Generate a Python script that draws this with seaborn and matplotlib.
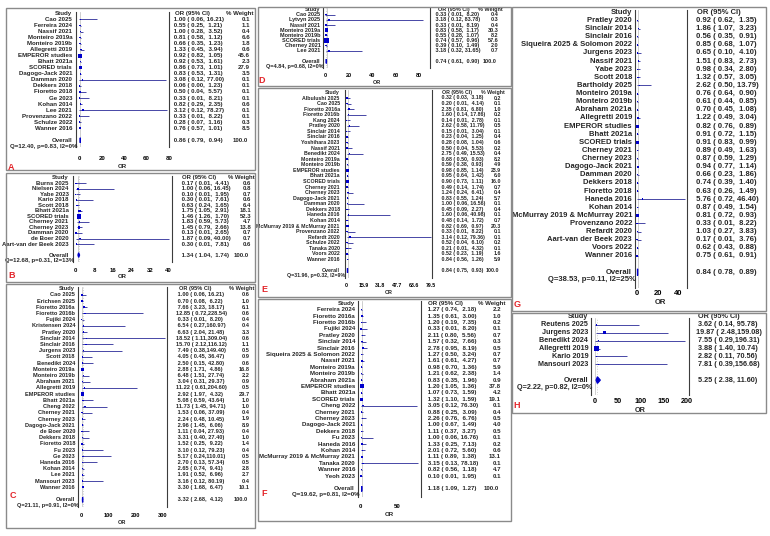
import numpy as np
import pandas as pd
import matplotlib
matplotlib.use("Agg")
import matplotlib.pyplot as plt
import seaborn as sns
from matplotlib.transforms import blended_transform_factory as btf
from matplotlib.patches import Rectangle

# ---------------- data ----------------
a_names = ["Cao 2025", "Ferreira 2024", "Nassif 2021", "Monteiro 2019a", "Monteiro 2019b", "Allegretti 2019",
           "EMPEROR studies", "Bhatt 2021a", "SCORED trials", "Dagogo-Jack 2021", "Damman 2020", "Dekkers 2018",
           "Fioretto 2018", "Ge 2023", "Kohan 2014", "Lee 2021", "Provenzano 2022", "Schulze 2022", "Wanner 2016"]
a_or = [1.00, 0.55, 1.00, 0.81, 0.66, 1.33, 0.92, 0.92, 0.86, 0.83, 3.08, 0.06, 0.50, 0.33, 0.82, 3.12, 0.33, 0.28, 0.76]
a_lo = [0.06, 0.25, 0.28, 0.58, 0.35, 0.45, 0.82, 0.53, 0.73, 0.53, 0.12, 0.00, 0.04, 0.01, 0.29, 0.12, 0.01, 0.07, 0.57]
a_hi = [16.21, 1.21, 3.52, 1.12, 1.23, 3.94, 1.05, 1.61, 1.01, 1.31, 77.00, 1.23, 5.57, 8.21, 2.35, 78.27, 8.22, 1.16, 1.01]
a_wt = [0.1, 1.1, 0.4, 6.6, 1.8, 0.6, 45.6, 2.3, 27.9, 3.5, 0.1, 0.1, 0.1, 0.1, 0.6, 0.1, 0.1, 0.3, 8.5]
a_overall = [0.86, 0.79, 0.94]
a_stats = "Q=12.40, p=0.83, I2=0%"
a_ticks = [0, 20, 40, 60, 80]

b_names = ["Burns 2025", "Nielsen 2024", "Yabe 2023", "Kario 2018", "Scott 2018", "Bhatt 2021a", "SCORED trials",
           "Cherney 2021", "Cherney 2023", "Damman 2020", "de Boer 2020", "Aart-van der Beek 2023"]
b_or = [0.17, 1.00, 0.10, 0.30, 0.63, 1.75, 1.46, 1.83, 1.45, 0.13, 1.87, 0.30]
b_lo = [0.01, 0.06, 0.01, 0.01, 0.24, 1.05, 1.26, 0.59, 0.79, 0.01, 0.09, 0.01]
b_hi = [4.41, 16.45, 1.95, 7.61, 1.65, 2.91, 1.70, 5.73, 2.66, 2.65, 40.00, 7.81]
b_wt = [0.6, 0.8, 0.7, 0.6, 6.4, 18.1, 52.3, 4.7, 13.8, 0.7, 0.7, 0.6]
b_overall = [1.34, 1.04, 1.74]
b_stats = "Q=12.68, p=0.31, I2=13%"
b_ticks = [0, 8, 16, 24, 32, 40]

c_names = ["Cao 2025", "Erichsen 2025", "Fioretto 2016a", "Fioretto 2016b", "Fujiki 2024", "Kristensen 2024",
           "Pratley 2020", "Sinclair 2014", "Sinclair 2016", "Jurgens 2023", "Scott 2018", "Benedikt 2024",
           "Monteiro 2019a", "Monteiro 2019b", "Abraham 2021", "Allegretti 2019", "EMPEROR studies", "Bhatt 2021a",
           "Cheng 2022", "Cherney 2021", "Cherney 2023", "Dagogo-Jack 2021", "de Boer 2020", "Dekkers 2018",
           "Fioretto 2018", "Fu 2023", "Ge 2023", "Haneda 2016", "Kohan 2014", "Lee 2021", "Mansouri 2023",
           "Wanner 2016"]
c_or = [1.00, 0.70, 7.66, 12.85, 0.33, 6.54, 6.63, 18.52, 15.70, 7.49, 4.05, 2.50, 2.88, 6.48, 3.04, 11.22, 2.92,
        5.08, 11.73, 1.53, 2.24, 2.96, 1.11, 3.31, 1.52, 3.10, 5.17, 2.70, 2.65, 1.91, 3.16, 3.30]
c_lo = [0.06, 0.08, 3.23, 0.72, 0.01, 0.27, 2.04, 1.11, 2.12, 0.38, 0.45, 0.15, 1.71, 1.51, 0.31, 0.61, 1.97,
        0.59, 1.45, 0.06, 0.48, 1.45, 0.04, 0.40, 0.25, 0.12, 0.24, 0.13, 0.74, 0.52, 0.12, 1.68]
c_hi = [16.21, 6.22, 18.17, 228.54, 8.20, 160.97, 21.48, 309.04, 116.12, 149.40, 36.47, 42.80, 4.86, 27.74, 29.37,
        204.60, 4.32, 43.64, 94.71, 37.09, 10.45, 6.06, 27.93, 27.40, 9.22, 79.23, 110.01, 57.34, 9.41, 6.96,
        80.19, 6.47]
c_wt = [0.6, 1.0, 6.1, 0.6, 0.4, 0.4, 3.3, 0.6, 1.1, 0.5, 0.9, 0.6, 16.8, 2.2, 0.9, 0.5, 29.7, 1.0, 1.0, 0.4,
        1.9, 8.9, 0.4, 1.0, 1.4, 0.4, 0.5, 0.5, 2.8, 2.7, 0.4, 10.1]
c_overall = [3.32, 2.68, 4.12]
c_stats = "Q=21.11, p=0.91, I2=0%"
c_ticks = [0, 100, 200, 300]

d_names = ["Cao 2025", "Lytvyn 2025", "Nassif 2021", "Monteiro 2019a", "Monteiro 2019b", "SCORED trials",
           "Cherney 2021", "Lee 2021"]
d_or = [0.33, 3.18, 0.33, 0.83, 0.55, 0.74, 0.39, 3.18]
d_lo = [0.01, 0.12, 0.01, 0.58, 0.28, 0.57, 0.10, 0.32]
d_hi = [8.20, 83.78, 8.19, 1.17, 1.07, 0.96, 1.49, 31.65]
d_wt = [0.4, 0.3, 0.4, 30.3, 8.2, 57.6, 2.0, 0.7]
d_overall = [0.74, 0.61, 0.90]
d_stats = "Q=4.84, p=0.68, I2=0%"
d_ticks = [0, 20, 40, 60, 80]

e_names = ["Albulushi 2025", "Cao 2025", "Fioretto 2016a", "Fioretto 2016b", "Kang 2024", "Pratley 2020",
           "Sinclair 2014", "Sinclair 2016", "Yoshihara 2023", "Nassif 2021", "Benedikt 2024", "Monteiro 2019a",
           "Monteiro 2019b", "EMPEROR studies", "Bhatt 2021a", "SCORED trials", "Cherney 2021", "Cherney 2023",
           "Dagogo-Jack 2021", "Damman 2020", "Dekkers 2018", "Haneda 2016", "Kohan 2014",
           "McMurray 2019 & McMurray 2021", "Provenzano 2022", "Refardt 2020", "Schulze 2022", "Tanaka 2020",
           "Voors 2022", "Wanner 2016"]
e_or = [0.32, 0.20, 2.35, 1.60, 0.14, 2.62, 0.15, 0.23, 0.28, 0.50, 2.75, 0.68, 0.59, 0.98, 0.95, 0.90, 0.49,
        1.24, 0.83, 1.00, 0.45, 1.60, 0.48, 0.82, 0.33, 3.14, 0.52, 0.21, 0.52, 0.84]
e_lo = [0.03, 0.01, 0.81, 0.14, 0.01, 0.58, 0.01, 0.04, 0.08, 0.04, 0.49, 0.50, 0.38, 0.85, 0.64, 0.73, 0.14,
        0.24, 0.55, 0.06, 0.09, 0.06, 0.14, 0.69, 0.01, 0.12, 0.04, 0.01, 0.23, 0.56]
e_hi = [3.18, 4.14, 6.80, 17.86, 2.78, 11.79, 3.04, 1.25, 1.04, 5.53, 15.53, 0.93, 0.93, 1.14, 1.42, 1.11, 1.74,
        6.41, 1.24, 16.56, 2.27, 40.98, 1.72, 0.97, 8.22, 79.36, 6.10, 4.32, 1.19, 1.26]
e_wt = [0.2, 0.1, 1.0, 0.2, 0.1, 0.5, 0.1, 0.4, 0.6, 0.2, 0.4, 8.2, 4.9, 23.9, 6.0, 16.0, 0.7, 0.4, 5.7, 0.1,
        0.4, 0.1, 0.7, 20.3, 0.1, 0.1, 0.2, 0.1, 1.6, 5.9]
e_overall = [0.84, 0.75, 0.93]
e_stats = "Q=31.96, p=0.32, I2=9%"
e_ticks = [0, 15.9, 31.8, 47.7, 63.6, 79.5]

f_names = ["Ferreira 2024", "Fioretto 2016a", "Fioretto 2016b", "Fujiki 2024", "Pratley 2020", "Sinclair 2014",
           "Sinclair 2016", "Siqueira 2025 & Solomon 2022", "Nassif 2021", "Monteiro 2019a", "Monteiro 2019b",
           "Abraham 2021a", "EMPEROR studies", "Bhatt 2021a", "SCORED trials", "Cheng 2022", "Cherney 2021",
           "Cherney 2023", "Dagogo-Jack 2021", "Dekkers 2018", "Fu 2023", "Haneda 2016", "Kohan 2014",
           "McMurray 2019 & McMurray 2021", "Tanaka 2020", "Wanner 2016", "Yeoh 2023"]
f_or = [1.27, 1.35, 1.20, 0.33, 2.11, 1.57, 2.78, 1.27, 1.61, 0.98, 1.21, 0.83, 1.20, 1.07, 1.32, 3.05, 0.88,
        2.26, 1.00, 1.11, 1.00, 1.33, 2.01, 1.11, 3.15, 0.82, 0.10]
f_lo = [0.74, 0.61, 0.19, 0.01, 0.80, 0.32, 0.95, 0.50, 0.61, 0.70, 0.62, 0.35, 1.05, 0.73, 1.10, 0.12, 0.25,
        0.76, 0.67, 0.37, 0.06, 0.25, 0.72, 0.89, 0.13, 0.56, 0.01]
f_hi = [2.18, 3.00, 7.35, 8.20, 5.56, 7.66, 8.19, 3.24, 4.27, 1.36, 2.38, 1.96, 1.36, 1.59, 1.59, 76.30, 3.09,
        6.76, 1.49, 3.27, 16.76, 7.13, 5.60, 1.38, 78.18, 1.18, 1.95]
f_wt = [2.2, 1.0, 0.2, 0.1, 0.7, 0.3, 0.5, 0.7, 0.7, 5.9, 1.4, 0.9, 37.8, 4.2, 19.1, 0.1, 0.4, 0.5, 4.0, 0.5,
        0.1, 0.2, 0.6, 13.1, 0.1, 4.7, 0.1]
f_overall = [1.18, 1.09, 1.27]
f_stats = "Q=19.62, p=0.81, I2=0%"
f_ticks = [0, 50]

g_names = ["Pratley 2020", "Sinclair 2014", "Sinclair 2016", "Siqueira 2025 & Solomon 2022", "Jurgens 2023",
           "Nassif 2021", "Yabe 2023", "Scott 2018", "Bartholdy 2025", "Monteiro 2019a", "Monteiro 2019b",
           "Abraham 2021a", "Allegretti 2019", "EMPEROR studies", "Bhatt 2021a", "SCORED trials", "Cherney 2021",
           "Cherney 2023", "Dagogo-Jack 2021", "Damman 2020", "Dekkers 2018", "Fioretto 2018", "Haneda 2016",
           "Kohan 2014", "McMurray 2019 & McMurray 2021", "Provenzano 2022", "Refardt 2020",
           "Aart-van der Beek 2023", "Voors 2022", "Wanner 2016"]
g_or = [0.92, 1.86, 0.56, 0.85, 0.65, 1.51, 0.98, 1.32, 2.62, 0.76, 0.61, 0.70, 1.22, 0.82, 0.91, 0.91, 0.89,
        0.87, 0.94, 0.66, 0.74, 0.63, 5.76, 0.87, 0.81, 0.33, 1.03, 0.17, 0.62, 0.75]
g_lo = [0.62, 1.07, 0.35, 0.68, 0.10, 0.83, 0.34, 0.57, 0.50, 0.64, 0.44, 0.45, 0.49, 0.76, 0.72, 0.83, 0.49,
        0.59, 0.77, 0.23, 0.39, 0.26, 0.72, 0.49, 0.72, 0.01, 0.27, 0.01, 0.43, 0.61]
g_hi = [1.35, 3.23, 0.91, 1.07, 4.10, 2.73, 2.80, 3.05, 13.79, 0.90, 0.85, 1.08, 3.04, 0.89, 1.15, 0.99, 1.63,
        1.29, 1.14, 1.86, 1.40, 1.49, 46.40, 1.54, 0.93, 8.22, 3.83, 3.76, 0.88, 0.91]
# square sizes (no weight column shown)
g_wt = [3, 3, 3, 7, 0.5, 2, 1, 1.5, 0.5, 9, 4, 3, 1, 22, 6, 16, 2, 2.5, 8, 0.8, 1.5, 1, 0.3, 2, 14, 0.1,
        0.6, 0.1, 4, 10]
g_overall = [0.84, 0.78, 0.89]
g_stats = "Q=38.53, p=0.11, I2=25%"
g_ticks = [0, 20, 40]

h_names = ["Reutens 2025", "Jurgens 2023", "Benedikt 2024", "Allegretti 2019", "Kario 2019", "Mansouri 2023"]
h_or = [3.62, 19.87, 7.55, 3.88, 2.82, 7.81]
h_lo = [0.14, 2.48, 0.29, 1.40, 0.11, 0.39]
h_hi = [95.78, 159.08, 196.31, 10.74, 70.56, 156.68]
h_wt = [3, 20, 3, 70, 3, 4]  # estimated from square sizes
h_overall = [5.25, 2.38, 11.60]
h_stats = "Q=2.22, p=0.82, I2=0%"
h_ticks = [0, 50, 100, 150, 200]

# ---------------- style ----------------
sns.set_theme(style="white")
plt.rcParams["font.family"] = ["Liberation Sans", "DejaVu Sans"]
plt.rcParams["font.weight"] = "bold"

W, H = 770, 536
SQ = "#0000cc"
LINE = "#4747a6"
BOX = "#8a8a8a"
fig = plt.figure(figsize=(W / 100, H / 100), dpi=100)


def panel(box, names, ors, los, his, wts, ov, stats, ticks, xlim, ax_x, ax_y, row0, dy, fs,
          lab_x, or_x, wt_x, tick_y, orlab_y, letter, letter_xy, hdr_dx=3, show_wt=True):
    x0, y0, x1, y1 = box
    fig.add_artist(Rectangle((x0 / W, 1 - y1 / H), (x1 - x0) / W, (y1 - y0) / H,
                             transform=fig.transFigure, fill=False, ec=BOX, lw=1.0))
    l, r = ax_x
    t, b = ax_y
    ax = fig.add_axes([l / W, 1 - b / H, (r - l) / W, (b - t) / H])
    ax.patch.set_alpha(0)
    n = len(names)
    rows = np.arange(n)
    ov_row = n + 1
    ax.axvline(1, color="#cfcfcf", lw=0.7, zorder=0)
    ax.axvline(ov[0], color="#cfcfcf", lw=0.7, ls=":", zorder=0)
    ax.hlines(rows, los, his, color=LINE, lw=0.7, zorder=2)
    side = np.maximum(1.4, 0.63 * np.sqrt(np.asarray(wts, dtype=float))) * 0.72
    df = pd.DataFrame({"x": ors, "y": rows})
    sns.scatterplot(data=df, x="x", y="y", marker="s", s=side ** 2, color=SQ, linewidth=0,
                    ax=ax, zorder=3, legend=False)
    ax.fill([ov[1], ov[0], ov[2], ov[0]], [ov_row, ov_row - 0.42, ov_row, ov_row + 0.42],
            color=SQ, lw=0.9, ec=SQ, zorder=3)
    ax.set_xlim(*xlim)
    ax.set_ylim((b - row0) / dy, (t - row0) / dy)
    ax.set_xlabel("")
    ax.set_ylabel("")
    ax.set_yticks([])
    for s in ["top", "bottom"]:
        ax.spines[s].set_visible(False)
    for s in ["left", "right"]:
        ax.spines[s].set_color("#3c3c3c")
        ax.spines[s].set_linewidth(0.8)
    fs_px = fs * 100 / 72
    pad = max(0.0, (tick_y - b) - 0.5 * fs_px) * 0.72
    ax.set_xticks(ticks)
    ax.set_xticklabels([f"{v:g}" for v in ticks], fontsize=fs, fontweight="bold")
    ax.tick_params(axis="x", length=0, pad=pad, colors="black")
    ax.text(0.5, -(orlab_y - b) / (b - t), "OR", transform=ax.transAxes, ha="center",
            va="center", fontsize=fs, fontweight="bold")
    tr = btf(fig.transFigure, ax.transData)
    kw = dict(transform=tr, va="center", fontsize=fs, fontweight="bold", clip_on=False)
    ax.text(lab_x / W, -1, "Study", ha="right", **kw)
    ax.text((or_x + hdr_dx) / W, -1, "OR (95% CI)", ha="left", **kw)
    if show_wt:
        ax.text((wt_x + 4) / W, -1, "% Weight", ha="right", **kw)
    for i in range(n):
        ax.text(lab_x / W, i, names[i], ha="right", **kw)
        ax.text(or_x / W, i, f"{ors[i]:5.2f} ({los[i]:5.2f},{his[i]:6.2f})", ha="left", **kw)
        if show_wt:
            ax.text(wt_x / W, i, f"{wts[i]:.1f}", ha="right", **kw)
    ax.text(lab_x / W, ov_row, "Overall", ha="right", **kw)
    ax.text(or_x / W, ov_row, f"{ov[0]:5.2f} ({ov[1]:5.2f},{ov[2]:6.2f})", ha="left", **kw)
    if show_wt:
        ax.text((wt_x - 2) / W, ov_row, "100.0", ha="right", **kw)
    ax.text((l + 1) / W, ov_row + 0.95, stats, ha="right", **kw)
    fig.text(letter_xy[0] / W, 1 - letter_xy[1] / H, letter, color="#e3262b", fontsize=6.5,
             fontweight="bold", ha="center", va="center")
    return ax


panel((6, 7.5, 255.3, 169.5), a_names, a_or, a_lo, a_hi, a_wt, a_overall, a_stats, a_ticks,
      (-2.7, 80.0), (76.3, 169), (11.7, 146.7), 19.5, 6.04, 4.4,
      72.2, 172, 250, 159.3, 166, "A", (11, 167))
panel((6, 172.5, 255.3, 282.3), b_names, b_or, b_lo, b_hi, b_wt, b_overall, b_stats, b_ticks,
      (-1.0, 41.5), (73.2, 172), (176, 262), 183.3, 5.52, 4.3,
      68.7, 179.5, 251, 271.3, 277, "B", (12, 275.5))
panel((6, 284.3, 255.3, 528.3), c_names, c_or, c_lo, c_hi, c_wt, c_overall, c_stats, c_ticks,
      (-15.6, 317), (77.5, 167), (286.5, 507), 294.8, 6.21, 4.1,
      75, 176, 250, 516, 523, "C", (12.5, 495))
panel((257.7, 6.8, 510.6, 86), d_names, d_or, d_lo, d_hi, d_wt, d_overall, d_stats, d_ticks,
      (-2.1, 89.4), (323, 430), (7.5, 68), 14.7, 5.17, 4.0,
      320.5, 434.5, 498.5, 75.8, 82.6, "D", (262, 80.9))
panel((257.7, 88, 510.6, 297), e_names, e_or, e_lo, e_hi, e_wt, e_overall, e_stats, e_ticks,
      (-1.9, 80.4), (344.6, 432), (90, 278), 98, 5.566, 3.75,
      339.7, 439.5, 501, 286, 292.5, "E", (264.5, 289.4))
panel((257.7, 298.6, 510.6, 520.5), f_names, f_or, f_lo, f_hi, f_wt, f_overall, f_stats, f_ticks,
      (-3.3, 82), (358.4, 421.2), (301, 497), 309.6, 6.40, 4.4,
      355, 425.5, 501, 506.8, 514.3, "F", (264.5, 494))
panel((512, 6.8, 765.5, 311.3), g_names, g_or, g_lo, g_hi, g_wt, g_overall, g_stats, g_ticks,
      (-1.8, 47.7), (634.8, 686.5), (10, 288), 20.5, 8.12, 5.5,
      632, 694.5, 0, 294, 302.7, "G", (517, 304.8), hdr_dx=2.5, show_wt=False)
panel((512, 313.3, 765.5, 412.7), h_names, h_or, h_lo, h_hi, h_wt, h_overall, h_stats, h_ticks,
      (-8.7, 205), (591, 689), (318, 395), 324.8, 7.9, 5.2,
      588.3, 696, 0, 401.7, 410, "H", (517, 406), hdr_dx=2.5, show_wt=False)

fig.savefig("out.png", dpi=100)
